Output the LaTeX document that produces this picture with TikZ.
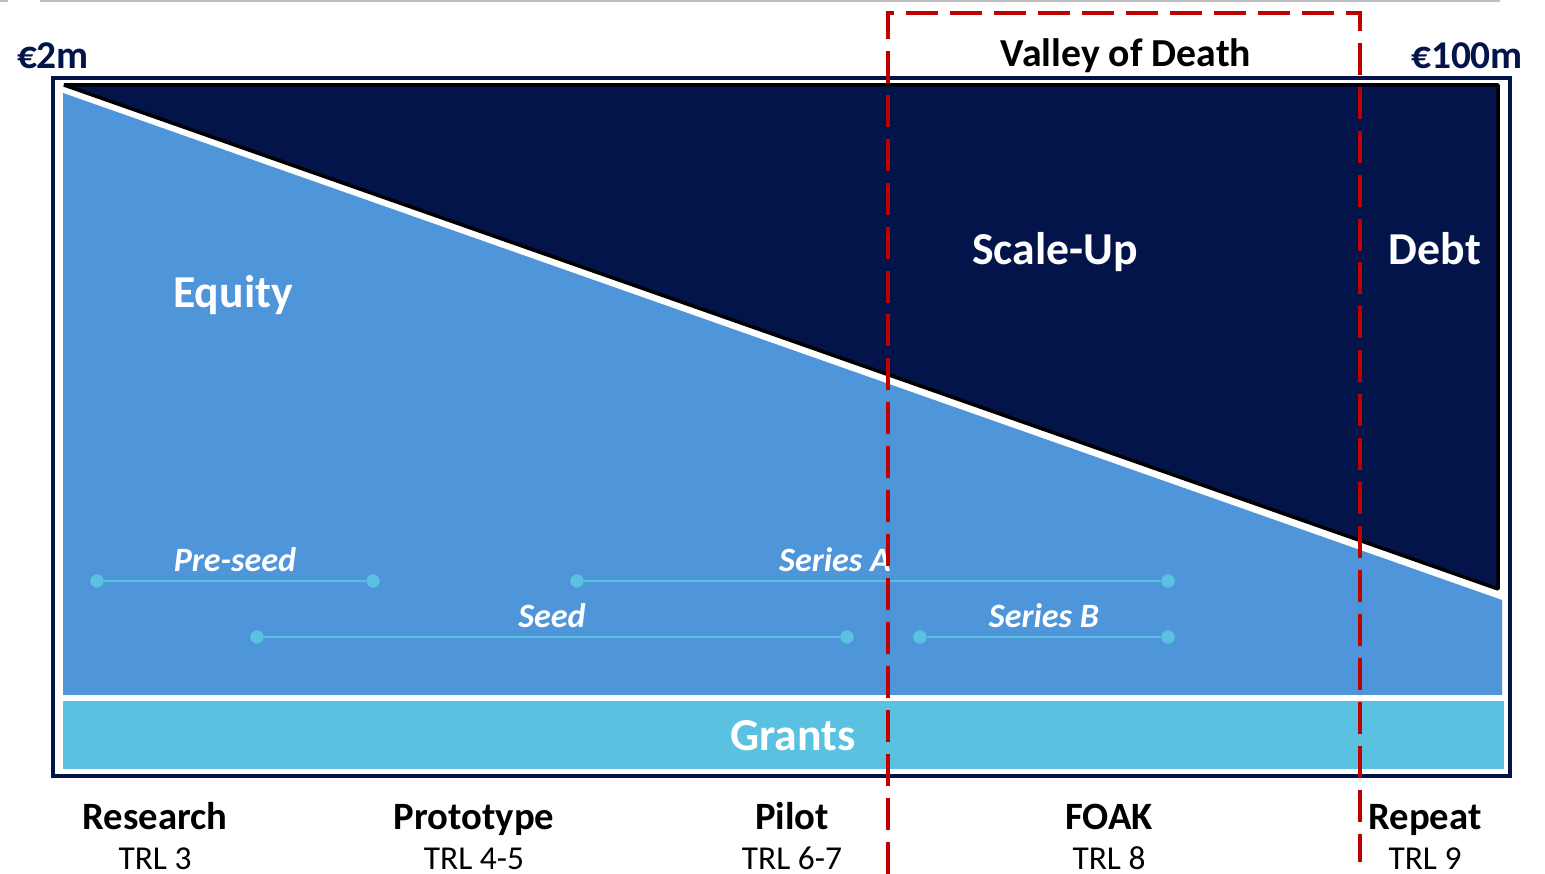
\documentclass[tikz,border=0pt]{standalone}
\usepackage{fontspec}
\setmainfont{Carlito}
\usepackage{xcolor}
\usepackage{tikz}

\definecolor{navy}{RGB}{2,20,73}
\definecolor{equityblue}{RGB}{79,149,217}
\definecolor{grantcyan}{RGB}{91,193,225}
\definecolor{deathred}{RGB}{192,0,0}
\definecolor{rulegray}{RGB}{191,191,191}

\tikzset{
	stage/.style={anchor=base, font=\fontsize{11}{13}\selectfont\bfseries, text=black},
	trl/.style={anchor=base, font=\fontsize{9.5}{11}\selectfont, text=black},
	band/.style={anchor=base, font=\fontsize{13}{15}\selectfont\bfseries, text=white},
	fundround/.style={anchor=base, font=\fontsize{9.7}{11}\selectfont\bfseries\itshape, text=white},
	money/.style={anchor=base, font=\fontsize{11.2}{13}\selectfont\bfseries, text=navy},
	roundbar/.style={draw=grantcyan, line width=0.75pt},
	bardot/.style={circle, fill=grantcyan, inner sep=0pt, minimum size=3.8pt},
	valley/.style={draw=deathred, line width=0.95pt, dash pattern=on 9.1pt off 3.4pt},
}

\begin{document}
\begin{tikzpicture}[x=0.01cm, y=-0.01cm]
	\useasboundingbox (0,0) rectangle (1545,874);
	\draw[rulegray, line width=0.85pt] (0,1) -- (8,1) (40,1) -- (1500,1);

	\draw[navy, line width=1.2pt] (53,78) rectangle (1510,776);
	\fill[navy, draw=black, line width=1pt, line join=bevel] (64,85) -- (1498,85) -- (1498,589) -- cycle;
	\fill[equityblue] (63,93) -- (1502,600) -- (1502,695) -- (63,695) -- cycle;
	\fill[grantcyan] (63,701) rectangle (1504,769);

	\node[money] at (53,69) (low) {€2m};
	\node[money] at (1467,69) (high) {€100m};
	\node[stage, font=\fontsize{11.3}{13}\selectfont\bfseries] at (1126,67) (vod) {Valley of Death};

	\node[band] at (233,308) (equity) {Equity};
	\node[band] at (1055,265) (scale) {Scale-Up};
	\node[band] at (1435,265) (debt) {Debt};
	\node[band] at (793,751) (grants) {Grants};

	\node[bardot] at (97,581) (ps1) {};
	\node[bardot] at (373,581) (ps2) {};
	\node[bardot] at (577,581) (sa1) {};
	\node[bardot] at (1168,581) (sa2) {};
	\node[bardot] at (257,637) (sd1) {};
	\node[bardot] at (847,637) (sd2) {};
	\node[bardot] at (920,637) (sb1) {};
	\node[bardot] at (1168,637) (sb2) {};
	\draw[roundbar] (ps1) -- (ps2);
	\draw[roundbar] (sa1) -- (sa2);
	\draw[roundbar] (sd1) -- (sd2);
	\draw[roundbar] (sb1) -- (sb2);
	\node[fundround] at (235,572) (preseed) {Pre-seed};
	\node[fundround] at (835,572) (seriesa) {Series A};
	\node[fundround] at (552,628) (seed) {Seed};
	\node[fundround] at (1044,628) (seriesb) {Series B};

	\coordinate (v1) at (888,874);
	\coordinate (v2) at (888,13);
	\coordinate (v3) at (1360,13);
	\coordinate (v4) at (1360,862);
	\draw[valley] (v1) -- (v2) -- (v3) -- (v4);

	\node[stage] at (155,830) (research) {Research};
	\node[trl] at (155,870) (trl3) {TRL 3};
	\node[stage] at (474,830) (proto) {Prototype};
	\node[trl] at (474,870) (trl45) {TRL 4-5};
	\node[stage] at (792,830) (pilot) {Pilot};
	\node[trl] at (792,870) (trl67) {TRL 6-7};
	\node[stage] at (1109,830) (foak) {FOAK};
	\node[trl] at (1109,870) (trl8) {TRL 8};
	\node[stage] at (1425,830) (repeat) {Repeat};
	\node[trl] at (1425,870) (trl9) {TRL 9};
\end{tikzpicture}
\end{document}
